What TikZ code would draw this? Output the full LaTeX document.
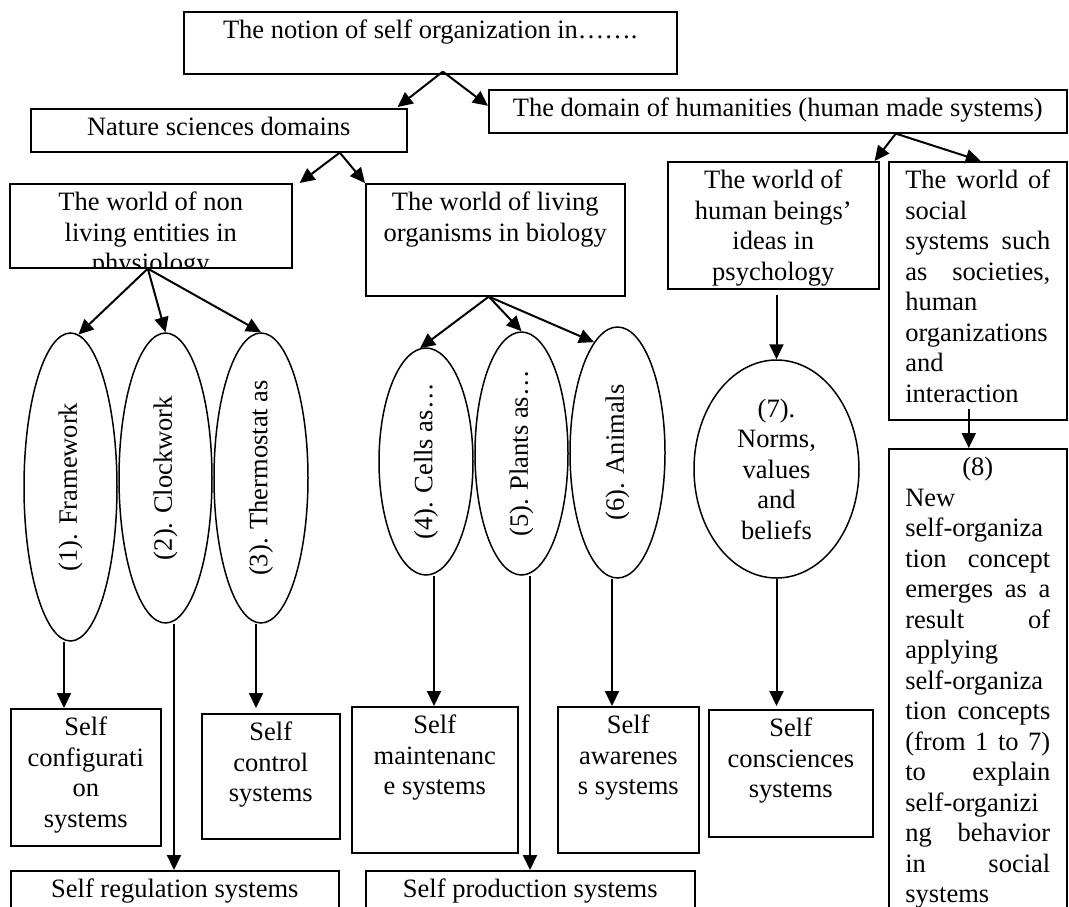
\documentclass[tikz,border=0pt]{standalone}
\usepackage{fontspec}
\setmainfont{Liberation Serif}
\usetikzlibrary{arrows.meta,shapes.geometric}
\begin{document}
\begin{tikzpicture}[x=1pt,y=-1pt,
  every node/.style={font=\fontsize{26.5pt}{30.5pt}\selectfont},
  box/.style={draw, line width=1.6pt, rectangle, inner sep=0pt, anchor=north west},
  txt/.style={inner sep=0pt, anchor=north, align=center},
  jtxt/.style={inner sep=0pt, anchor=north, align=left},
  ell/.style={draw, line width=1.5pt, ellipse, inner sep=0pt},
  arr/.style={line width=2pt, -{Triangle[length=15pt,width=14pt]}}]
\useasboundingbox (0,0) rectangle (1069,906);
\fill[white] (0,0) rectangle (1069,906);
\clip (0,0) rectangle (1069,906);

% boxes
\node[box, minimum width=493pt, minimum height=62pt] (top) at (183,11) {};
\node[txt] (topT) at ([yshift=-6pt]top.north) {\strut The notion of self organization in…….};

\node[box, minimum width=376pt, minimum height=43pt] (nature) at (30,108) {};
\node[txt] (natureT) at ([yshift=-6pt]nature.north) {\strut Nature sciences domains};

\node[box, minimum width=578pt, minimum height=43pt] (hum) at (488,89) {};
\node[txt] (humT) at ([yshift=-6pt]hum.north) {\strut The domain of humanities (human made systems)};

\node[box, minimum width=282pt, minimum height=84pt] (nonl) at (9,183) {};
\begin{scope}
\clip (nonl.north west) rectangle (nonl.south east);
\node[txt] (nonlT) at ([yshift=-6pt]nonl.north) {\strut The world of non\\living entities in\\physiology};
\end{scope}

\node[box, minimum width=259pt, minimum height=112pt] (living) at (365,183) {};
\node[txt] (livingT) at ([yshift=-6pt]living.north) {\strut The world of living\\organisms in biology};

\node[box, minimum width=211pt, minimum height=127pt] (psych) at (667,161) {};
\node[txt] (psychT) at ([yshift=-6pt]psych.north) {\strut The world of\\human beings’\\ideas in\\psychology};

\node[box, minimum width=178pt, minimum height=258pt] (social) at (888,161) {};
\node[jtxt] (socialT) at ([yshift=-6pt]social.north) {\strut\makebox[145pt][s]{The world of}\\
\makebox[145pt][l]{social}\\
\makebox[145pt][s]{systems such}\\
\makebox[145pt][s]{as societies,}\\
\makebox[145pt][l]{human}\\
\makebox[145pt][l]{organizations}\\
\makebox[145pt][l]{and}\\
\makebox[145pt][l]{interaction}};

\node[box, minimum width=150pt, minimum height=137pt] (config) at (10,708) {};
\node[txt] (configT) at ([yshift=-6pt]config.north) {\strut Self\\configurati\\on\\systems};

\node[box, minimum width=138pt, minimum height=125pt] (control) at (201,713) {};
\node[txt] (controlT) at ([yshift=-6pt]control.north) {\strut Self\\control\\systems};

\node[box, minimum width=166pt, minimum height=146pt] (maint) at (351,706) {};
\node[txt] (maintT) at ([yshift=-6pt]maint.north) {\strut Self\\maintenanc\\e systems};

\node[box, minimum width=141pt, minimum height=146pt] (aware) at (557,706) {};
\node[txt] (awareT) at ([yshift=-6pt]aware.north) {\strut Self\\awarenes\\s systems};

\node[box, minimum width=164pt, minimum height=127pt] (consc) at (708,709) {};
\node[txt] (conscT) at ([yshift=-6pt]consc.north) {\strut Self\\consciences\\systems};

\node[box, minimum width=328pt, minimum height=60pt] (reg) at (10,870) {};
\node[txt] (regT) at ([yshift=-6pt]reg.north) {\strut Self regulation systems};

\node[box, minimum width=329pt, minimum height=60pt] (prod) at (365,870) {};
\node[txt] (prodT) at ([yshift=-6pt]prod.north) {\strut Self production systems};

\node[box, minimum width=178pt, minimum height=482pt] (box8) at (888,448) {};
\node[jtxt] (box8T) at ([yshift=-6pt]box8.north) {\strut\makebox[145pt][c]{(8)}\\
\makebox[145pt][l]{New}\\
\makebox[145pt][l]{self-organiza}\\
\makebox[145pt][s]{tion concept}\\
\makebox[145pt][s]{emerges as a}\\
\makebox[145pt][s]{result of}\\
\makebox[145pt][l]{applying}\\
\makebox[145pt][l]{self-organiza}\\
\makebox[145pt][s]{tion concepts}\\
\makebox[145pt][s]{(from 1 to 7)}\\
\makebox[145pt][s]{to explain}\\
\makebox[145pt][l]{self-organizi}\\
\makebox[145pt][s]{ng behavior}\\
\makebox[145pt][s]{in social}\\
\makebox[145pt][l]{systems}};

% ellipses
\node[ell, minimum width=93pt, minimum height=308pt] (e1) at (70.5,487) {\rotatebox{90}{(1). Framework}};
\node[ell, minimum width=93pt, minimum height=290pt] (e2) at (165.5,478) {\rotatebox{90}{(2). Clockwork}};
\node[ell, minimum width=94pt, minimum height=290pt] (e3) at (261,478) {\rotatebox{90}{(3). Thermostat as}};
\node[ell, minimum width=94pt, minimum height=227pt] (e4) at (426,461.5) {\rotatebox{90}{(4). Cells as…}};
\node[ell, minimum width=93pt, minimum height=243pt] (e5) at (521.5,453.5) {\rotatebox{90}{(5). Plants as…}};
\node[ell, minimum width=95pt, minimum height=251pt] (e6) at (617.5,452.5) {\rotatebox{90}{(6). Animals}};
\node[ell, minimum width=165pt, minimum height=218pt, align=center] (e7) at (776.5,469) {(7).\\Norms,\\values\\and\\beliefs};

% connectors
\draw[arr] ([xshift=12.5pt,yshift=3pt]top.south) -- ([xshift=-10pt,yshift=1pt]nature.north east);
\draw[arr] ([xshift=12.5pt,yshift=3pt]top.south) -- ([yshift=5.5pt]hum.west);
\draw[arr] ([xshift=121pt]nature.south) -- ([xshift=7pt]nonl.north east);
\draw[arr] ([xshift=121pt]nature.south) -- (living.north west);
\draw[arr] ([xshift=118pt]hum.south) -- ([xshift=-5pt]psych.north east);
\draw[arr] ([xshift=118pt]hum.south) -- ([xshift=3pt]social.north);

\draw[arr] ([xshift=-3pt]nonl.south) -- (e1.87);
\draw[arr] ([xshift=-3pt]nonl.south) -- (e2.north);
\draw[arr] ([xshift=-3pt]nonl.south) -- (e3.north);
\draw[arr] ([xshift=-6.5pt]living.south) -- (e4.93);
\draw[arr] ([xshift=-6.5pt]living.south) -- (e5.north);
\draw[arr] ([xshift=-6.5pt]living.south) -- (e6.102);

\coordinate (s1) at ([xshift=-6.5pt]e1.south);
\coordinate (s2) at ([xshift=8.5pt]e2.south);
\coordinate (s3) at ([xshift=-5pt]e3.south);
\coordinate (s4) at ([xshift=8pt]e4.south);
\coordinate (s5) at ([xshift=8.5pt]e5.south);
\coordinate (s6) at ([xshift=-5.5pt]e6.south);
\coordinate (s7) at (e7.south);
\coordinate (p8) at ([yshift=-5pt]psych.south);
\coordinate (s9) at ([xshift=-9pt,yshift=12pt]social.south);

\draw[arr] (s1) -- (s1 |- config.north);
\draw[arr] (s2) -- (s2 |- reg.north);
\draw[arr] (s3) -- ([yshift=5pt]s3 |- control.north);
\draw[arr] (s4) -- (s4 |- maint.north);
\draw[arr] (s5) -- (s5 |- prod.north);
\draw[arr] (s6) -- (s6 |- aware.north);
\draw[arr] (s7) -- ([yshift=3pt]s7 |- consc.north);
\draw[arr] (p8 -| e7.north) -- (e7.north);
\draw[arr] (s9) -- (s9 |- box8.north);
\end{tikzpicture}
\end{document}
